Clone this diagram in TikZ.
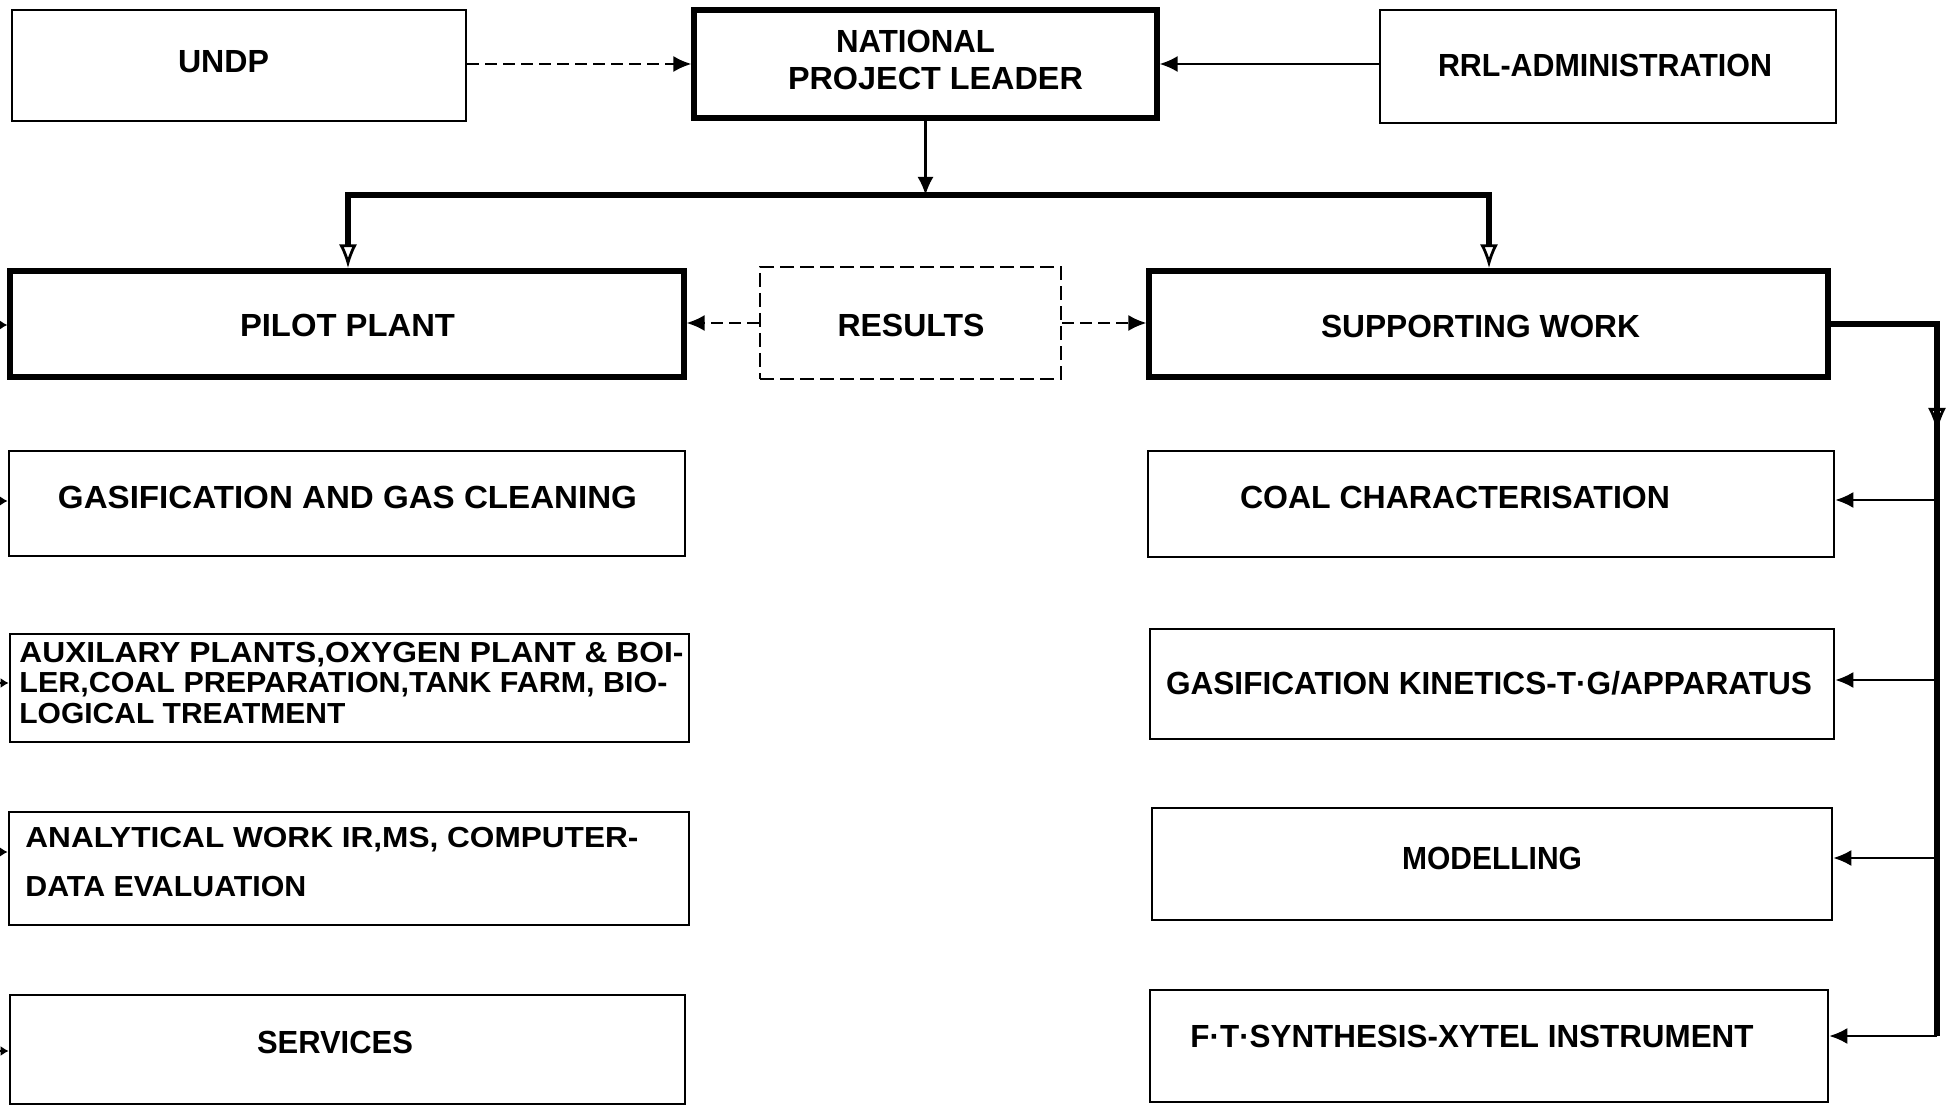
\documentclass[tikz,border=0pt]{standalone}
\usepackage{fontspec}
\setmainfont{Liberation Sans}
\usepackage{graphicx}
\usetikzlibrary{arrows.meta}
\newcommand\fitw[2]{\resizebox{#1}{\height}{#2}}
\tikzset{
  box/.style={draw, line width=1.3pt, inner sep=0pt},
  thickbox/.style={draw, line width=2.6pt, inner sep=0pt},
  dbox/.style={draw, line width=1.3pt, dash pattern=on 7pt off 3pt, inner sep=0pt},
  txt/.style={inner sep=0pt, font=\bfseries\fontsize{16}{18}\selectfont},
  stxt/.style={inner sep=0pt, font=\bfseries\fontsize{14.5}{15.25}\selectfont, align=left},
  conn/.style={line width=1.1pt, -{Latex[length=9pt,width=8pt]}},
  dconn/.style={conn, dash pattern=on 6pt off 3pt},
  stub/.style={line width=1.1pt, -{Latex[length=4pt,width=5pt]}},
  busline/.style={line width=2.6pt, line join=miter},
  otip/.tip={Latex[open,length=12pt,width=9pt,line width=1.4pt]},
  openarrow/.style={line width=2.4pt, -otip},
}
\begin{document}
\begin{tikzpicture}[x=0.5pt, y=-0.5pt]
\useasboundingbox (0,0) rectangle (1950,1106);

% top row
\node[box, minimum width=227pt, minimum height=55.5pt] (undp) at (239,65.5) {};
\node[txt] (undpT) at (223.5,62) {\fitw{45.5pt}{UNDP}};
\node[thickbox, minimum width=231.5pt, minimum height=54pt] (npl) at (925.5,64) {};
\node[txt] (nplT1) at (915.5,41) {\fitw{79.5pt}{NATIONAL}};
\node[txt] (nplT2) at (935.5,78) {\fitw{147.5pt}{PROJECT LEADER}};
\node[box, minimum width=228pt, minimum height=56.5pt] (rrl) at (1608,66.5) {};
\node[txt] (rrlT) at (1605,65) {\fitw{167pt}{RRL-ADMINISTRATION}};

% second row
\node[thickbox, minimum width=337pt, minimum height=53pt] (pilot) at (347,324) {};
\node[txt] (pilotT) at (347.5,325) {\fitw{107.5pt}{PILOT PLANT}};
\node[dbox, minimum width=150.5pt, minimum height=56pt] (res) at (910.5,323) {};
\node[txt] (resT) at (911,325) {\fitw{73.5pt}{RESULTS}};
\node[thickbox, minimum width=339.5pt, minimum height=53pt] (sw) at (1488.5,324) {};
\node[txt] (swT) at (1480.5,326) {\fitw{159.5pt}{SUPPORTING WORK}};

% left column
\node[box, minimum width=338pt, minimum height=52.5pt] (gcl) at (347,503.5) {};
\node[txt] (gclT) at (347.5,497) {\fitw{289.5pt}{GASIFICATION AND GAS CLEANING}};
\node[box, minimum width=339.5pt, minimum height=54pt] (aux) at (349.5,688) {};
\node[stxt, anchor=west] (auxT) at (19,683) {\fitw{332pt}{AUXILARY PLANTS,OXYGEN PLANT \& BOI-}\\\fitw{324pt}{LER,COAL PREPARATION,TANK FARM, BIO-}\\\fitw{163pt}{LOGICAL TREATMENT}};
\node[box, minimum width=340pt, minimum height=56.5pt] (anal) at (349,868.5) {};
\node[stxt, anchor=west] (analT1) at (25,840) {\fitw{306.5pt}{ANALYTICAL WORK IR,MS, COMPUTER-}};
\node[stxt, anchor=west] (analT2) at (25,887) {\fitw{140.5pt}{DATA EVALUATION}};
\node[box, minimum width=337.5pt, minimum height=54.5pt] (serv) at (347.5,1049.5) {};
\node[txt] (servT) at (335,1042) {\fitw{78pt}{SERVICES}};

% right column
\node[box, minimum width=343pt, minimum height=53pt] (coal) at (1491,504) {};
\node[txt] (coalT) at (1455,497) {\fitw{215pt}{COAL CHARACTERISATION}};
\node[box, minimum width=342pt, minimum height=55pt] (kin) at (1492,684) {};
\node[txt] (kinT) at (1489,683) {\fitw{323pt}{GASIFICATION KINETICS-T·G/APPARATUS}};
\node[box, minimum width=340pt, minimum height=56pt] (model) at (1492,864) {};
\node[txt] (modelT) at (1492,858) {\fitw{90pt}{MODELLING}};
\node[box, minimum width=339pt, minimum height=56pt] (ft) at (1489,1046) {};
\node[txt] (ftT) at (1472,1036) {\fitw{281.5pt}{F·T·SYNTHESIS-XYTEL INSTRUMENT}};

% top connectors
\draw[dconn] (undp.east |- npl.west) -- (npl.west);
\draw[conn] (rrl.west |- npl.east) -- (npl.east);

% main bus
\coordinate (busL) at (348,195);
\coordinate (busR) at (1489,195);
\coordinate (busM) at (npl.south |- busL);
\draw[conn] (npl.south) -- (busM);
\draw[busline, otip-otip]
  (busL |- pilot.north) -- (busL) -- (busR) -- (busR |- sw.north);

% results
\draw[dconn] (res.west) -- (pilot.east |- res.west);
\draw[dconn] (res.east) -- (sw.west |- res.east);

% right bus
\coordinate (rtop) at (1937,324);
\coordinate (rmid) at (1937,432);
\coordinate (r1) at (1937,500);
\coordinate (r2) at (1937,680);
\coordinate (r3) at (1937,858);
\coordinate (r4) at (1937,1036);
\draw[busline] (sw.east) -- (rtop) -- (r4);
\draw[openarrow] (rtop) -- (rmid);
\draw[conn] (r1) -- (coal.east |- r1);
\draw[conn] (r2) -- (kin.east |- r2);
\draw[conn] (r3) -- (model.east |- r3);
\draw[conn] (r4) -- (ft.east |- r4);

% left stubs
\coordinate (l0) at (0,325);
\coordinate (l1) at (0,501);
\coordinate (l2) at (0,683);
\coordinate (l3) at (0,852);
\coordinate (l4) at (0,1051);
\draw[stub] (l0) -- (pilot.west |- l0);
\draw[stub] (l1) -- (gcl.west |- l1);
\draw[stub] (l2) -- (aux.west |- l2);
\draw[stub] (l3) -- (anal.west |- l3);
\draw[stub] (l4) -- (serv.west |- l4);
\end{tikzpicture}
\end{document}
